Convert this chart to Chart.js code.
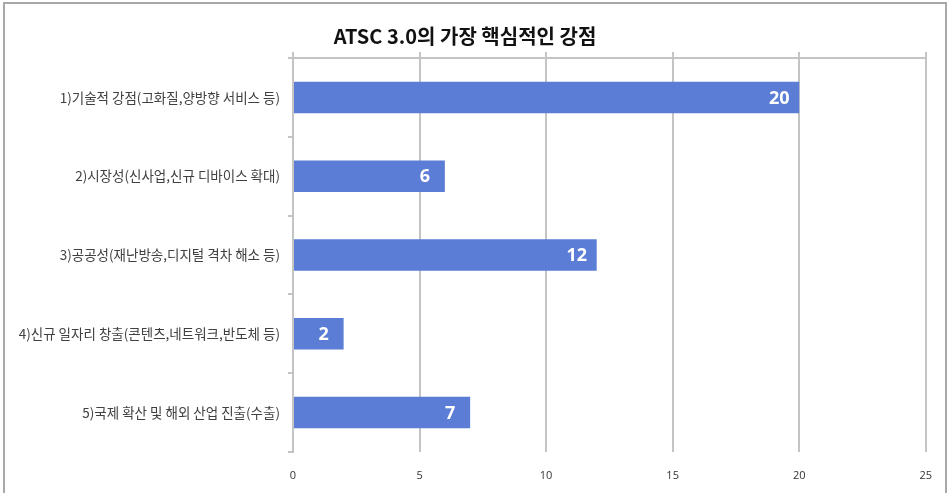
<!DOCTYPE html>
<html>
<head>
<meta charset="utf-8">
<script src="https://cdn.jsdelivr.net/npm/chart.js@4"></script>
<style>
    body { margin: 0; background: #fff; }
    #wrap { position: relative; width: 949px; height: 493px; }
    #frame {
        position: absolute; left: 3px; top: 2px; width: 940px; height: 500px;
        border: 2px solid #a8a8a8; border-bottom: none; pointer-events: none;
    }
</style>
</head>
<body>
<div id="wrap">
    <canvas id="myChart" width="949" height="493"></canvas>
    <div id="frame"></div>
</div>
<script>
const titleText = 'ATSC 3.0의 가장 핵심적인 강점';
const categories = [
    '1)기술적 강점(고화질,양방향 서비스 등)',
    '2)시장성(신사업,신규 디바이스 확대)',
    '3)공공성(재난방송,디지털 격차 해소 등)',
    '4)신규 일자리 창출(콘텐츠,네트워크,반도체 등)',
    '5)국제 확산 및 해외 산업 진출(수출)'
];
const counts = [20, 6, 12, 2, 7];
const axisMax = 25;
const axisStep = 5;

const gridColor = '#c4c4c4';
const barColor = 'rgb(91, 125, 214)';

// white value label near the end of each bar
const barLabels = {
    id: 'barLabels',
    afterDatasetsDraw(chart) {
        const ctx = chart.ctx;
        const meta = chart.getDatasetMeta(0);
        ctx.save();
        ctx.fillStyle = '#fff';
        ctx.font = 'bold 18px "Open Sans", "Liberation Sans", sans-serif';
        ctx.textAlign = 'center';
        ctx.textBaseline = 'middle';
        meta.data.forEach((bar, i) => {
            ctx.fillText(String(counts[i]), bar.x - 20, bar.y + 1);
        });
        ctx.restore();
    }
};

const canvas = document.getElementById('myChart').getContext('2d');
const myChart = new Chart(canvas, {
    type: 'bar',
    data: {
        labels: categories,
        datasets: [{
            data: counts,
            backgroundColor: barColor,
            borderWidth: 0,
            categoryPercentage: 0.8,
            barPercentage: 0.5
        }]
    },
    plugins: [barLabels],
    options: {
        indexAxis: 'y',
        responsive: false,
        animation: false,
        layout: { padding: { left: 0, right: 19, top: 0, bottom: 12 } },
        plugins: {
            legend: { display: false },
            tooltip: { enabled: false },
            title: {
                display: true,
                text: titleText,
                color: '#111',
                font: { family: '"Noto Sans CJK KR", sans-serif', size: 20, weight: 'bold' },
                padding: { top: 24, bottom: 4 }
            }
        },
        scales: {
            x: {
                min: 0,
                max: axisMax,
                position: 'bottom',
                afterFit(scale) { scale.height = 29; },
                ticks: {
                    stepSize: axisStep,
                    padding: 17,
                    color: '#333',
                    font: { family: '"Open Sans", sans-serif', size: 11 }
                },
                grid: { color: gridColor, lineWidth: 2, drawTicks: false },
                border: { display: false }
            },
            xTop: {
                type: 'linear',
                min: 0,
                max: axisMax,
                position: 'top',
                afterFit(scale) { scale.height = 6; },
                ticks: { display: false, stepSize: axisStep },
                grid: { color: gridColor, lineWidth: 2, drawOnChartArea: false, tickLength: 6 },
                border: { display: true, color: gridColor, width: 2 }
            },
            y: {
                afterFit(scale) { scale.width = 293; },
                ticks: {
                    padding: 8,
                    color: '#404040',
                    font: { family: '"Noto Sans CJK KR", sans-serif', size: 13.5 }
                },
                grid: { offset: true, drawOnChartArea: false, color: gridColor, lineWidth: 2, tickLength: 5 },
                border: { display: true, color: gridColor, width: 2 }
            }
        }
    }
});
</script>
</body>
</html>
